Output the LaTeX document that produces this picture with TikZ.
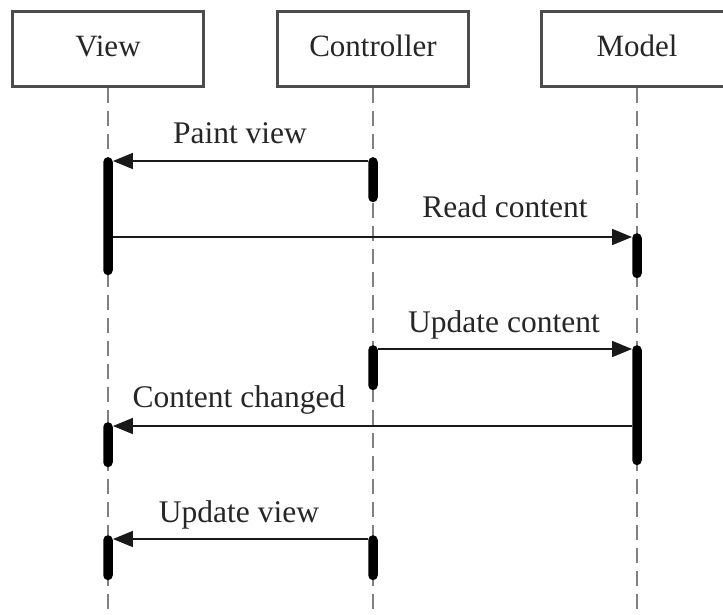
\documentclass[tikz,border=0pt]{standalone}
\usepackage{fontspec}
\setmainfont{Liberation Serif}
\usetikzlibrary{arrows.meta,calc}

\begin{document}
\begin{tikzpicture}[x=1pt,y=-1pt,
  party/.style={draw=black!70, line width=2.6pt, fill=white,
    minimum width=191pt, minimum height=75pt, inner sep=0pt, anchor=north},
  partytext/.style={font=\fontsize{31}{36}\selectfont, text=black!85, anchor=base, inner sep=0pt},
  lifeline/.style={draw=black!50, line width=2pt, dash pattern=on 15pt off 8pt},
  actbar/.style={fill=black, draw=none, minimum width=9.5pt, inner sep=0pt,
    rounded corners=4.75pt, anchor=north},
  msg/.style={draw=black!90, line width=1.7pt,
    -{Triangle[length=20pt,width=16pt]}},
  msglabel/.style={font=\fontsize{31.5}{36}\selectfont, text=black!85, anchor=base, inner sep=0pt}
]
\useasboundingbox (0,0) rectangle (723,614);
\clip (0,0) rectangle (723,614);

% participants
\node[party] (view)  at (108,10) {};
\node[party] (ctrl)  at (373,10) {};
\node[party] (model) at (637,10) {};
\node[partytext] (viewT)  at (108,56) {View};
\node[partytext] (ctrlT)  at (373,56) {Controller};
\node[partytext] (modelT) at (637,56) {Model};

% lifelines
\coordinate (viewEnd)  at (108,614);
\coordinate (ctrlEnd)  at (373,614);
\coordinate (modelEnd) at (637,614);
\draw[lifeline] (view.south)  -- (viewEnd);
\draw[lifeline] (ctrl.south)  -- (ctrlEnd);
\draw[lifeline] (model.south) -- (modelEnd);

% activation bars
\node[actbar, minimum height=118pt] (vb1) at (108,157) {};
\node[actbar, minimum height=45pt]  (cb1) at (373,157) {};
\node[actbar, minimum height=45pt]  (mb1) at (637,233) {};
\node[actbar, minimum height=45pt]  (cb2) at (373,345) {};
\node[actbar, minimum height=120pt] (mb2) at (637,345) {};
\node[actbar, minimum height=45pt]  (vb2) at (108,422) {};
\node[actbar, minimum height=45pt]  (vb3) at (108,535) {};
\node[actbar, minimum height=45pt]  (cb3) at (373,535) {};

% message end points, just below the rounded top of each bar
\coordinate (m1s) at ($(cb1.north west)+(0,4)$);
\coordinate (m1e) at ($(vb1.north east)+(0,4)$);
\coordinate (m2e) at ($(mb1.north west)+(0,4)$);
\coordinate (m3s) at ($(cb2.north east)+(0,4)$);
\coordinate (m3e) at ($(mb2.north west)+(0,4)$);
\coordinate (m4e) at ($(vb2.north east)+(0,4)$);
\coordinate (m5s) at ($(cb3.north west)+(0,4)$);
\coordinate (m5e) at ($(vb3.north east)+(0,4)$);

% messages
\draw[msg] (m1s) -- (m1e);
\draw[msg] (vb1.east |- m2e) -- (m2e);
\draw[msg] (m3s) -- (m3e);
\draw[msg] (mb2.west |- m4e) -- (m4e);
\draw[msg] (m5s) -- (m5e);

% message labels
\node[msglabel] (l1) at (240,143) {Paint view};
\node[msglabel] (l2) at (505,217) {Read content};
\node[msglabel] (l3) at (504,332) {Update content};
\node[msglabel] (l4) at (239,407) {Content changed};
\node[msglabel] (l5) at (239,522) {Update view};
\end{tikzpicture}
\end{document}
